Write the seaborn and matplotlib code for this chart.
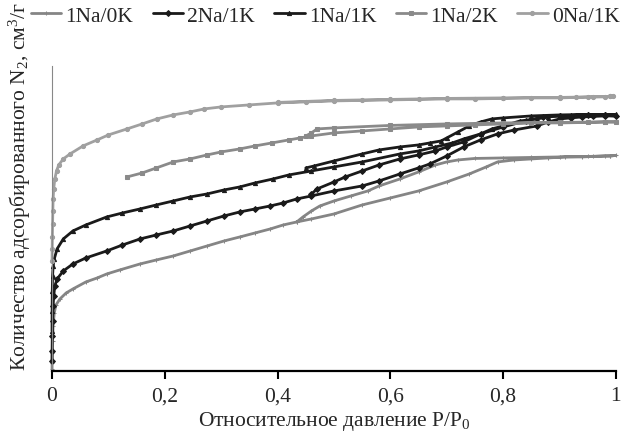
import numpy as np
import pandas as pd
import matplotlib
matplotlib.use('Agg')
import matplotlib.pyplot as plt
import seaborn as sns

# P/P0 and adsorbed volume (arbitrary cm3/g scale), adsorption then desorption
p_1na0k = [0.00005, 0.0002, 0.0005, 0.001, 0.002, 0.004, 0.007, 0.014, 0.025, 0.037, 0.06, 0.08,
           0.097, 0.12, 0.156, 0.185, 0.215, 0.245, 0.275, 0.305, 0.333, 0.36, 0.387, 0.41, 0.434,
           0.46, 0.50, 0.55, 0.60, 0.65, 0.70, 0.74, 0.77, 0.79, 0.82, 0.85, 0.88, 0.91, 0.94,
           0.96, 0.98, 0.99, 1.0,
           0.99, 0.95, 0.90, 0.85, 0.80, 0.75, 0.72, 0.70, 0.68, 0.65, 0.617, 0.58, 0.56, 0.53,
           0.50, 0.475, 0.46, 0.445, 0.434]
v_1na0k = [2, 8, 18, 30, 45, 58, 66, 72, 78, 82, 89, 93,
           97, 101, 107, 111, 115, 120, 125, 130, 134, 138, 142, 146, 149,
           152, 157, 166, 173, 180, 189, 197, 204, 209, 211, 212, 213, 214, 214,
           214.5, 215, 215, 215.5,
           215, 214.5, 214, 213.5, 213, 212.5, 211, 209, 206, 199, 192, 185, 180, 175,
           170, 165, 160, 154, 149]

p_2na1k = [0.00005, 0.0002, 0.0005, 0.001, 0.002, 0.003, 0.005, 0.009, 0.02, 0.037, 0.06, 0.097,
           0.125, 0.156, 0.185, 0.215, 0.245, 0.275, 0.305, 0.333, 0.36, 0.387, 0.41, 0.434,
           0.46, 0.50, 0.55, 0.58, 0.617, 0.65, 0.67, 0.70, 0.73, 0.76, 0.79, 0.82, 0.86, 0.88,
           0.90, 0.92, 0.94, 0.96, 0.98, 1.0,
           0.98, 0.95, 0.90, 0.87, 0.84, 0.80, 0.76, 0.73, 0.70, 0.68, 0.65, 0.617, 0.58, 0.55,
           0.52, 0.50, 0.47, 0.46]
v_2na1k = [10, 20, 35, 50, 65, 75, 85, 92, 100, 107, 113, 120,
           126, 132, 136, 140, 145, 150, 155, 159, 162, 165, 168, 172,
           175, 180, 185, 190, 197, 203, 207, 215, 224, 231, 237, 241, 245, 249,
           252, 253, 254, 254.5, 255, 255,
           255.5, 255.5, 255, 254, 250, 244, 237, 229, 224, 220, 216, 212, 206, 200,
           194, 189, 182, 177]

p_1na1k = [0.00005, 0.0002, 0.0005, 0.001, 0.002, 0.004, 0.009, 0.02, 0.037, 0.06, 0.097, 0.125,
           0.156, 0.185, 0.215, 0.245, 0.275, 0.305, 0.333, 0.36, 0.392, 0.42, 0.46, 0.50,
           0.55, 0.617, 0.65, 0.68, 0.71, 0.73, 0.76, 0.78, 0.80, 0.83, 0.86, 0.88, 0.90, 0.92,
           0.94, 0.96, 0.98, 1.0,
           0.98, 0.95, 0.90, 0.85, 0.80, 0.78, 0.76, 0.74, 0.72, 0.70, 0.69, 0.67, 0.65, 0.617,
           0.58, 0.55, 0.50, 0.465, 0.45]
v_1na1k = [40, 60, 80, 95, 105, 112, 122, 132, 140, 146, 154, 158,
           162, 166, 170, 174, 177, 181, 184, 188, 192, 196, 200, 204,
           209, 217, 220, 224, 228, 232, 237, 242, 245, 250, 252, 254, 255, 255.5,
           256, 256, 256.5, 256.5,
           256.5, 256.5, 256, 255, 253, 252, 249, 245, 239, 233, 230, 228, 226, 224,
           221, 217, 210, 205, 203]

p_1na2k = [0.133, 0.16, 0.185, 0.215, 0.245, 0.275, 0.30, 0.333, 0.36, 0.39, 0.42, 0.44,
           0.46, 0.50, 0.55, 0.60, 0.65, 0.70, 0.75, 0.80, 0.85, 0.90, 0.95, 0.98, 1.0,
           0.98, 0.90, 0.80, 0.70, 0.60, 0.50, 0.47, 0.46, 0.45]
v_1na2k = [194, 198, 203, 209, 212, 216, 219, 222, 225, 228, 231, 233,
           235, 238, 240, 242, 244, 245, 246, 247, 248, 248, 248.5, 249, 249,
           249, 248.5, 248, 247, 245.5, 243, 242, 238, 235]

p_0na1k = [0.0001, 0.0003, 0.0006, 0.001, 0.0015, 0.002, 0.003, 0.005, 0.008, 0.012, 0.02, 0.032,
           0.055, 0.08, 0.10, 0.133, 0.16, 0.186, 0.215, 0.245, 0.27, 0.30, 0.35, 0.40,
           0.45, 0.50, 0.55, 0.60, 0.65, 0.70, 0.75, 0.80, 0.85, 0.90, 0.93, 0.96, 0.98, 0.99,
           0.995,
           0.99, 0.95, 0.90, 0.80, 0.70, 0.60, 0.50, 0.40]
v_0na1k = [110, 122, 134, 147, 160, 172, 182, 192, 200, 206, 212, 217,
           225, 231, 236, 242, 247, 252, 256, 259, 262, 264, 266, 268,
           269, 270, 270.5, 271, 271.5, 272, 272, 272.5, 273, 273, 273.5, 274, 274, 274.5,
           275,
           274.5, 274, 273.5, 273, 272.5, 271.5, 270.5, 268.5]

series = [
    ('1Na/0K', p_1na0k, v_1na0k, '#858585', '+'),
    ('2Na/1K', p_2na1k, v_2na1k, '#1a1a1a', 'D'),
    ('1Na/1K', p_1na1k, v_1na1k, '#1a1a1a', '^'),
    ('1Na/2K', p_1na2k, v_1na2k, '#8a8a8a', 's'),
    ('0Na/1K', p_0na1k, v_0na1k, '#a0a0a0', 'o'),
]

xticks = [0, 0.2, 0.4, 0.6, 0.8, 1.0]
xtick_labels = ['0', '0,2', '0,4', '0,6', '0,8', '1']

sns.set_style('white')
plt.rcParams['font.family'] = ['Liberation Serif', 'DejaVu Serif']
plt.rcParams['mathtext.fontset'] = 'custom'
plt.rcParams['mathtext.rm'] = 'Liberation Serif'
plt.rcParams['mathtext.it'] = 'Liberation Serif:italic'

fig = plt.figure(figsize=(6.22, 4.39), dpi=100)
ax = fig.add_axes([0.0836, 0.1526, 0.9067, 0.695])

for name, p, v, col, mk in series:
    df = pd.DataFrame({'p': p, 'v': v})
    sns.lineplot(data=df, x='p', y='v', sort=False, estimator=None, ax=ax,
                 color=col, linewidth=2.0, marker=mk, markersize=3,
                 markeredgecolor=col, markerfacecolor=col, label=name, clip_on=False)

ax.set_xlim(0, 1)
ax.set_ylim(0, 305)
ax.set_xticks(xticks)
ax.set_xticklabels(xtick_labels)
ax.set_yticks([])
ax.tick_params(axis='x', direction='out', length=6, width=1.5, color='black',
               labelsize=15.5, pad=5, bottom=True)
for s in ['top', 'right']:
    ax.spines[s].set_visible(False)
ax.spines['bottom'].set_color('black')
ax.spines['bottom'].set_linewidth(1.6)
ax.spines['left'].set_color('#888888')
ax.spines['left'].set_linewidth(0.8)

ax.set_xlabel('Относительное давление P/P$_0$', fontsize=15.5, labelpad=3)
ax.set_ylabel('')
fig.text(0.032, 0.575, 'Количество адсорбированного N$_2$, см$^3$/г', rotation=90,
         fontsize=15.5, ha='center', va='center')

handles, labels = ax.get_legend_handles_labels()
ax.get_legend().remove()
fig.legend(handles, labels, loc='center left', bbox_to_anchor=(0.05, 0.962), ncol=5,
           frameon=False, fontsize=15.5, handlelength=1.4, handletextpad=0.2,
           columnspacing=0.9, borderaxespad=0, borderpad=0)

fig.savefig('out.png', dpi=100)
